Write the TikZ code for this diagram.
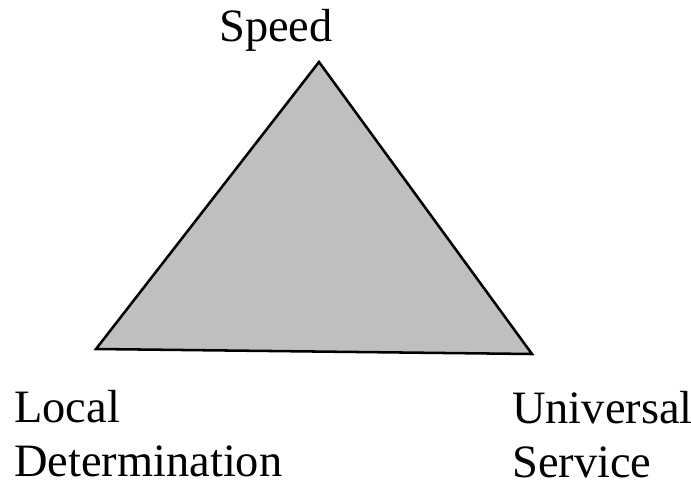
\documentclass[tikz,border=0pt]{standalone}
\usepackage{fontspec}
\setmainfont{Liberation Serif}
\usetikzlibrary{calc}

\begin{document}
\begin{tikzpicture}[x=0.025cm,y=-0.025cm,inner sep=0pt,
  lbl/.style={font=\fontsize{33}{38}\selectfont,align=left,anchor=base west}]
\useasboundingbox (0,0) rectangle (691,487);
\coordinate (top) at (319,62);
\coordinate (bl) at (96,349);
\coordinate (br) at (532,354);

\filldraw[fill=black!25,line width=1.8pt,line join=miter] (top) -- (bl) -- (br) -- cycle;

% base of a two-line node sits on its last line
\node[lbl] (speed) at (219,41) {Speed};
\node[lbl] (local) at (14,476) {Local\\Determination};
\node[lbl] (univ) at (512,477) {Universal\\Service};
\end{tikzpicture}
\end{document}
